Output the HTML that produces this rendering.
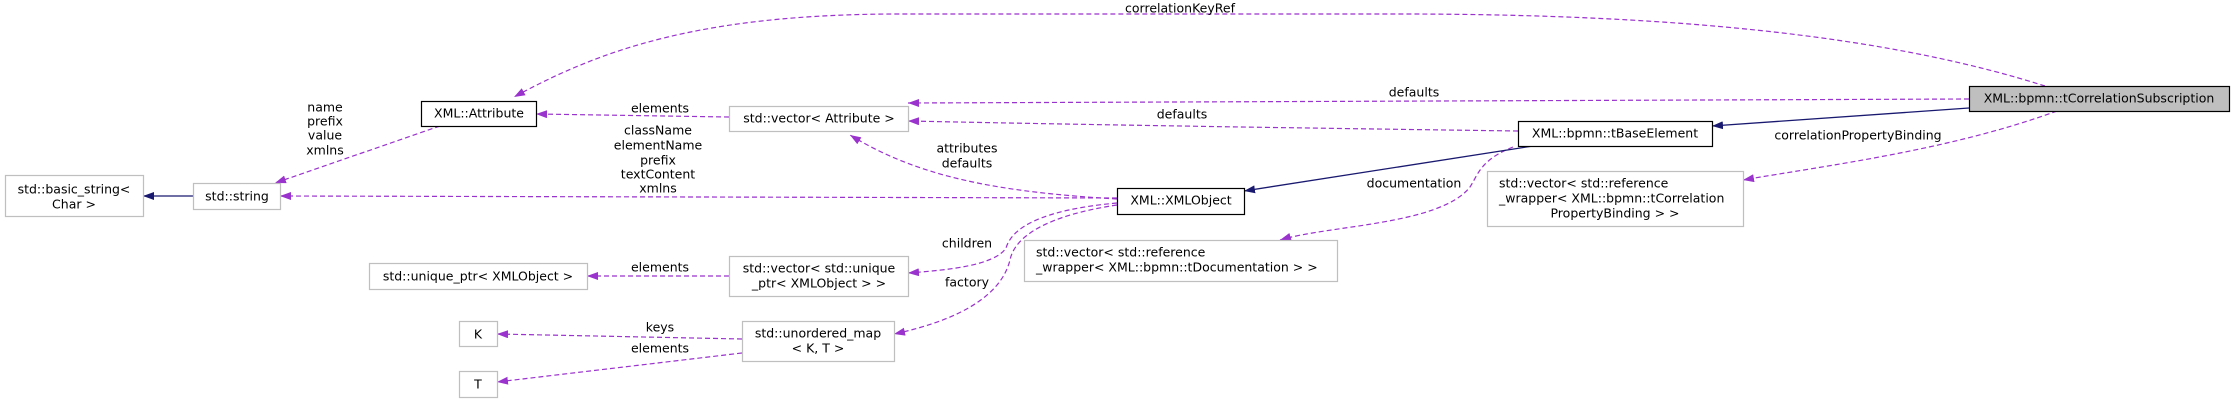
<!DOCTYPE html>
<html><head><meta charset="utf-8"><style>
html,body{margin:0;padding:0;background:#fff;}
svg{display:block;}
text{font-family:"DejaVu Sans","Liberation Sans",sans-serif;font-size:12.5px;fill:#000;}
</style></head><body>
<svg width="2235" height="403" viewBox="0 0 2235 403" xmlns="http://www.w3.org/2000/svg">
<defs>
<marker id="p" markerUnits="userSpaceOnUse" markerWidth="12" markerHeight="10" refX="11" refY="4" orient="auto"><path d="M0,0 L11,4 L0,8 z" fill="#9a32cd"/></marker>
<marker id="n" markerUnits="userSpaceOnUse" markerWidth="12" markerHeight="10" refX="11" refY="4" orient="auto"><path d="M0,0 L11,4 L0,8 z" fill="#191970"/></marker>
</defs>
<g fill="none" stroke="#9a32cd" stroke-width="1.2" stroke-dasharray="5,3" marker-end="url(#p)">
<path d="M2045,86 C1900,40 1700,14 1400,14 L900,14 C700,14 600,50 514,97"/>
<path d="M1969,99 L908,103"/>
<path d="M1518,131 C1300,128 1100,125 908,121"/>
<path d="M729,117 L536,114"/>
<path d="M440,126 L275,183"/>
<path d="M1117,198 L280,196"/>
<path d="M1117,199 C1000,192 920,178 850,135"/>
<path d="M1117,203 C1040,210 1012,228 1006,248 C995,265 950,270 908,273"/>
<path d="M1117,205 C1050,215 1015,235 1010,260 C1000,300 950,322 894,334"/>
<path d="M729,276 L587,276"/>
<path d="M742,339 L497,334"/>
<path d="M742,353 L497,382"/>
<path d="M1513,147 C1480,160 1478,175 1470,187 C1440,225 1330,225 1280,240"/>
<path d="M2057,111 C1950,150 1830,165 1743,180"/>
</g>
<g fill="none" stroke="#191970" stroke-width="1.3" marker-end="url(#n)">
<path d="M1969,108 L1712,126"/>
<path d="M1533,146 L1244,191"/>
<path d="M193,196 L143,196"/>
</g>
<g stroke-width="1.2">
<rect x="1969.5" y="86.5" width="260" height="25" fill="#bfbfbf" stroke="#000"/>
<rect x="1518.5" y="121.5" width="194" height="25" fill="#fff" stroke="#000"/>
<rect x="1117.5" y="188.5" width="127" height="26" fill="#fff" stroke="#000"/>
<rect x="421.5" y="101.5" width="115" height="25" fill="#fff" stroke="#000"/>
<rect x="729.5" y="106.5" width="179" height="25" fill="#fff" stroke="#bfbfbf"/>
<rect x="193.5" y="183.5" width="87" height="26" fill="#fff" stroke="#bfbfbf"/>
<rect x="5.5" y="175.5" width="138" height="41" fill="#fff" stroke="#bfbfbf"/>
<rect x="369.5" y="263.5" width="218" height="26" fill="#fff" stroke="#bfbfbf"/>
<rect x="729.5" y="256.5" width="179" height="40" fill="#fff" stroke="#bfbfbf"/>
<rect x="742.5" y="321.5" width="152" height="40" fill="#fff" stroke="#bfbfbf"/>
<rect x="459.5" y="321.5" width="38" height="25" fill="#fff" stroke="#bfbfbf"/>
<rect x="459.5" y="371.5" width="38" height="26" fill="#fff" stroke="#bfbfbf"/>
<rect x="1024.5" y="240.5" width="313" height="41" fill="#fff" stroke="#bfbfbf"/>
<rect x="1487.5" y="171.5" width="256" height="55" fill="#fff" stroke="#bfbfbf"/>
</g>
<g text-anchor="middle" dominant-baseline="central">
<text x="2099" y="98">XML::bpmn::tCorrelationSubscription</text>
<text x="1615" y="133">XML::bpmn::tBaseElement</text>
<text x="1181" y="200">XML::XMLObject</text>
<text x="479" y="113">XML::Attribute</text>
<text x="819" y="118">std::vector&lt; Attribute &gt;</text>
<text x="237" y="196">std::string</text>
<text x="74" y="189">std::basic_string&lt;</text>
<text x="74" y="204">Char &gt;</text>
<text x="478" y="276">std::unique_ptr&lt; XMLObject &gt;</text>
<text x="819" y="268">std::vector&lt; std::unique</text>
<text x="819" y="283">_ptr&lt; XMLObject &gt; &gt;</text>
<text x="818" y="333">std::unordered_map</text>
<text x="818" y="348">&lt; K, T &gt;</text>
<text x="478" y="334">K</text>
<text x="478" y="384">T</text>
<text x="1615" y="213">PropertyBinding &gt; &gt;</text>
<text x="1180" y="8">correlationKeyRef</text>
<text x="1414" y="92">defaults</text>
<text x="1182" y="114">defaults</text>
<text x="660" y="108">elements</text>
<text x="325" y="107">name</text>
<text x="325" y="121">prefix</text>
<text x="325" y="135">value</text>
<text x="325" y="150">xmlns</text>
<text x="658" y="130">className</text>
<text x="658" y="145">elementName</text>
<text x="658" y="160">prefix</text>
<text x="658" y="174">textContent</text>
<text x="658" y="188">xmlns</text>
<text x="967" y="148">attributes</text>
<text x="967" y="163">defaults</text>
<text x="967" y="243">children</text>
<text x="967" y="282">factory</text>
<text x="660" y="267">elements</text>
<text x="660" y="327">keys</text>
<text x="660" y="348">elements</text>
<text x="1414" y="183">documentation</text>
<text x="1858" y="135">correlationPropertyBinding</text>
</g>
<g dominant-baseline="central">
<text x="1036" y="252">std::vector&lt; std::reference</text>
<text x="1036" y="267">_wrapper&lt; XML::bpmn::tDocumentation &gt; &gt;</text>
<text x="1499" y="183">std::vector&lt; std::reference</text>
<text x="1499" y="198">_wrapper&lt; XML::bpmn::tCorrelation</text>
</g>
</svg>
</body></html>
